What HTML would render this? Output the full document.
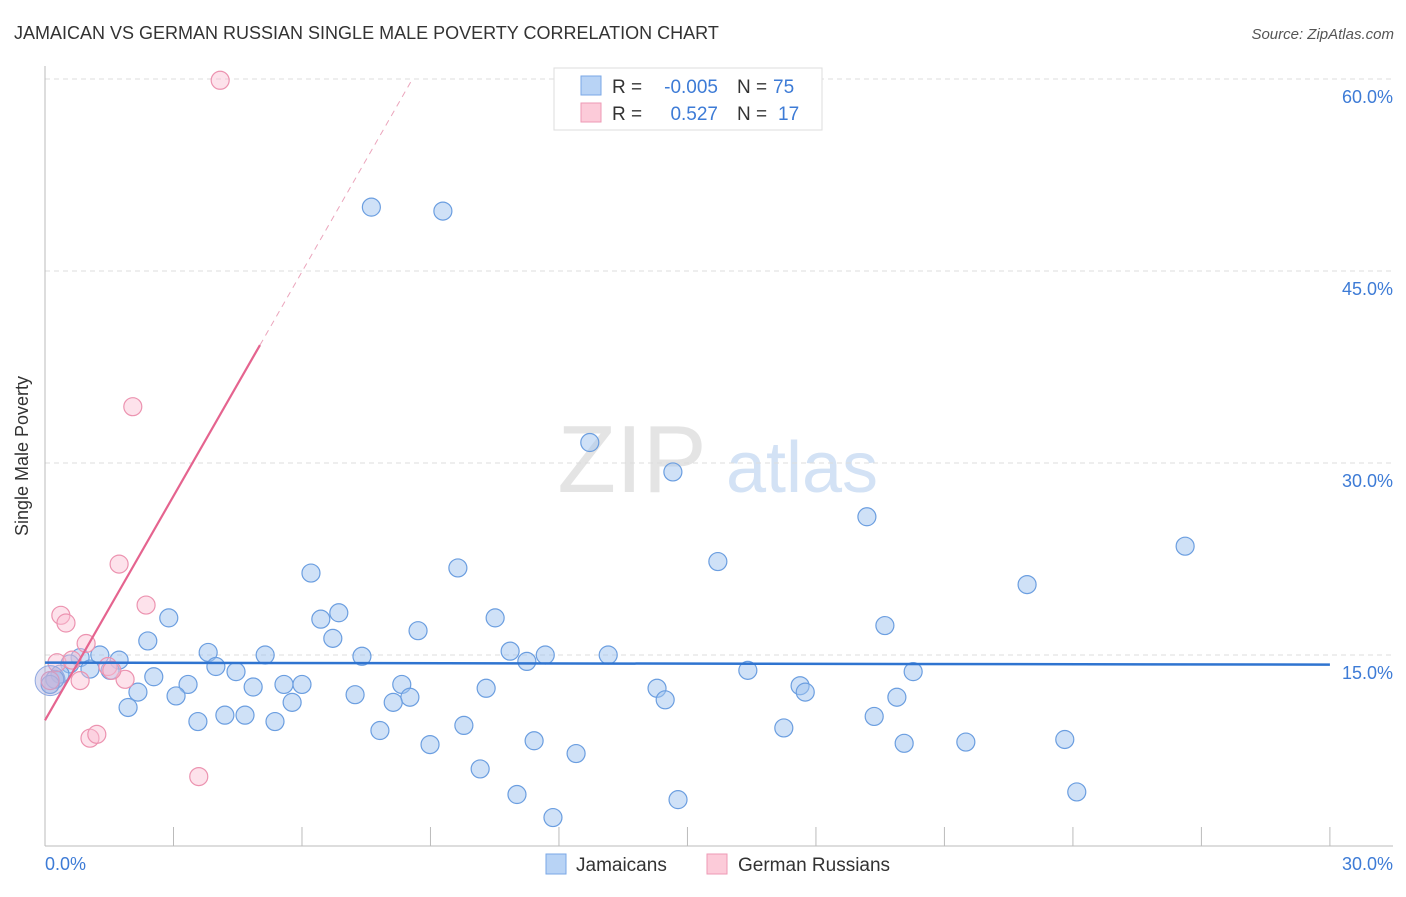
<!DOCTYPE html>
<html><head><meta charset="utf-8"><style>
body{margin:0;background:#fff;font-family:"Liberation Sans",sans-serif}
svg text{font-family:"Liberation Sans",sans-serif}
</style></head><body>
<svg width="1406" height="892" xmlns="http://www.w3.org/2000/svg">
<text x="14" y="39" font-size="18" fill="#333">JAMAICAN VS GERMAN RUSSIAN SINGLE MALE POVERTY CORRELATION CHART</text>
<text x="1394" y="39" font-size="15" fill="#555" text-anchor="end" font-style="italic">Source: ZipAtlas.com</text>
<text x="632" y="492" font-size="96" fill="#e4e4e4" text-anchor="middle" font-family="Liberation Serif">ZIP</text>
<text x="802" y="492" font-size="72" fill="#d3e2f5" text-anchor="middle">atlas</text>
<g id="grid"></g>
<line x1="45" y1="66" x2="45" y2="846" stroke="#bbb"/>
<line x1="45" y1="846" x2="1393" y2="846" stroke="#bbb"/>
<g id="xt"></g>
<text x="28" y="456" font-size="18" fill="#333" text-anchor="middle" transform="rotate(-90 28 456)">Single Male Poverty</text>
<text x="45" y="870" font-size="18" fill="#3d7bd6">0.0%</text>
<text x="1393" y="870" font-size="18" fill="#3d7bd6" text-anchor="end">30.0%</text>
<g id="pts"></g>
<g id="trend"></g>
<g>
<rect x="554" y="68" width="268" height="62" fill="#fff" stroke="#ddd"/>
<rect x="581" y="76" width="20" height="19" fill="#b8d3f5" stroke="#7aa7e6"/>
<rect x="581" y="103" width="20" height="19" fill="#fccbd9" stroke="#ee9ab5"/>
<text x="612" y="93" font-size="19" fill="#333">R =</text>
<text x="718" y="93" font-size="19" fill="#3d7bd6" text-anchor="end">-0.005</text>
<text x="737" y="93" font-size="19" fill="#333">N =</text>
<text x="773" y="93" font-size="19" fill="#3d7bd6">75</text>
<text x="612" y="120" font-size="19" fill="#333">R =</text>
<text x="718" y="120" font-size="19" fill="#3d7bd6" text-anchor="end">0.527</text>
<text x="737" y="120" font-size="19" fill="#333">N =</text>
<text x="778" y="120" font-size="19" fill="#3d7bd6">17</text>
</g>
<g>
<rect x="546" y="854" width="20" height="20" fill="#b8d3f5" stroke="#7aa7e6"/>
<text x="576" y="871" font-size="19" fill="#333">Jamaicans</text>
<rect x="707" y="854" width="20" height="20" fill="#fccbd9" stroke="#ee9ab5"/>
<text x="738" y="871" font-size="19" fill="#333">German Russians</text>
</g>
</svg>
<script>
const yTicks=[15,30,45,60];
const xTickVals=[0,3,6,9,12,15,18,21,24,27,30];
const blueX=[7.62,9.29,12.72,14.66,19.19,26.62,15.71,22.93,6.21,9.64,2.89,6.86,6.44,10.51,2.40,6.72,8.71,19.61,3.81,5.14,7.40,10.86,11.68,13.15,11.25,1.28,1.73,0.82,0.58,1.05,0.35,0.23,0.12,1.52,3.99,4.46,2.54,8.33,16.41,20.27,3.34,4.86,5.58,6.00,2.17,3.06,7.24,8.52,10.30,14.29,17.63,17.75,1.94,5.77,8.13,14.48,19.89,3.57,4.20,4.67,5.37,9.78,17.25,19.36,7.82,8.99,11.42,12.40,20.06,21.50,23.81,10.16,11.02,14.78,24.09,11.86];
const blueY=[49.99,49.68,31.6,29.3,25.8,23.5,22.3,20.5,21.4,21.8,17.9,18.3,17.8,17.9,16.1,16.3,16.9,17.3,15.2,15.0,14.9,15.3,15.0,15.0,14.5,15.0,14.6,14.8,14.3,13.9,13.5,13.1,12.7,13.8,14.1,13.7,13.3,12.7,13.8,13.7,12.7,12.5,12.7,12.7,12.1,11.8,11.9,11.7,12.4,12.4,12.6,12.1,10.9,11.3,11.3,11.5,11.7,9.8,10.3,10.3,9.8,9.5,9.3,10.2,9.1,8.0,8.3,7.3,8.1,8.2,8.4,6.1,4.1,3.7,4.3,2.3];
const pinkX=[4.09,2.05,1.73,2.36,0.37,0.49,0.96,0.28,0.63,1.47,1.87,0.82,0.12,1.05,1.21,3.59,1.56];
const pinkY=[59.9,34.4,22.1,18.9,18.1,17.5,15.9,14.4,14.6,14.1,13.1,13.0,13.0,8.5,8.8,5.5,13.8];
const blueTrend=[14.4,14.25];
const pinkIntercept=9.9, pinkSlope=5.84, pinkSolidEnd=5.02, pinkDashEnd=8.55;
const X=v=>45+v*42.83, Y=v=>847-v*12.8;
const NS="http://www.w3.org/2000/svg";
function mk(t,a,p){const e=document.createElementNS(NS,t);for(const k in a)e.setAttribute(k,a[k]);p.appendChild(e);return e;}
const grid=document.getElementById('grid');
yTicks.forEach(v=>{
 const l=mk('line',{x1:45,x2:1393,y1:Y(v),y2:Y(v),stroke:'#ddd','stroke-dasharray':'5,4'},grid);
 
 
 const t=mk('text',{x:1393,y:Y(v)+24,'font-size':18,fill:'#3d7bd6','text-anchor':'end'},grid);
 t.textContent=v.toFixed(1)+'%';
 
 
});
const xt=document.getElementById('xt');
xTickVals.forEach(v=>{
 const l=mk('line',{x1:X(v),x2:X(v),y1:827,y2:846,stroke:'#bbb'},xt);
 
 
});
const pts=document.getElementById('pts');
blueX.forEach((x,i)=>{
 const c=mk('circle',{cx:X(x),cy:Y(blueY[i]),r:9,fill:'rgba(160,196,240,0.5)',stroke:'#6b9ee0','stroke-width':1.2},pts);
 
 
});
pinkX.forEach((x,i)=>{
 const c=mk('circle',{cx:X(x),cy:Y(pinkY[i]),r:9,fill:'rgba(250,190,210,0.45)',stroke:'#ec93b0','stroke-width':1.2},pts);
 
 
});
const big=mk('circle',{cx:X(0.12),cy:Y(13.0),r:15,fill:'rgba(170,170,220,0.4)',stroke:'#8fa8e0'},pts);


const tr=document.getElementById('trend');
const b=mk('line',{x1:X(0),y1:Y(blueTrend[0]),x2:X(30),y2:Y(blueTrend[1]),stroke:'#2f74d0','stroke-width':2.5},tr);


const p=mk('line',{x1:X(0),y1:Y(pinkIntercept),x2:X(pinkSolidEnd),y2:Y(pinkIntercept+pinkSlope*pinkSolidEnd),stroke:'#e5648f','stroke-width':2.2},tr);


const pd=mk('line',{x1:X(pinkSolidEnd),y1:Y(pinkIntercept+pinkSlope*pinkSolidEnd),x2:X(pinkDashEnd),y2:Y(pinkIntercept+pinkSlope*pinkDashEnd),stroke:'#eba5bc','stroke-width':1,'stroke-dasharray':'6,5'},tr);


</script>
</body></html>
